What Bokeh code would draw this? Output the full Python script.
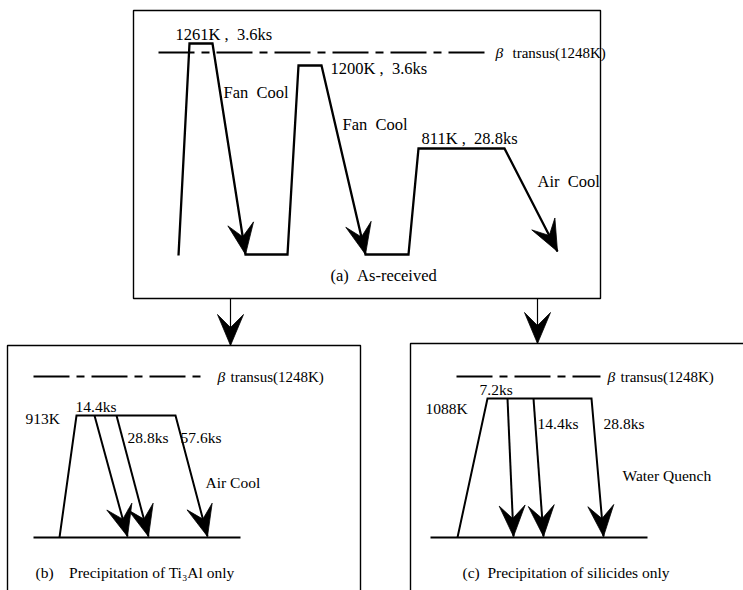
from bokeh.plotting import figure
from bokeh.models import Range1d
from bokeh.embed import file_html
from bokeh.resources import INLINE
from bokeh.core.properties import value
import numpy as np

# ---------------- schematic data (drawing units, y grows downward) ----------------
# (a) As-received: solution 1261K/3.6ks -> fan cool -> 1200K/3.6ks -> fan cool -> 811K/28.8ks -> air cool
a_path_x = [178, 189, 212, 245, 287, 298, 321, 365, 408, 418, 504, 557]
a_path_y = [255, 43, 43, 254, 254, 65, 65, 254, 254, 148, 148, 251]
a_arrow_at = [3, 7, 11]          # path vertices that end in a cooling arrow

# (b) 913K ageing, held 14.4 / 28.8 / 57.6 ks, air cooled
b_ramp_x = [59, 76, 175, 207]
b_ramp_y = [537, 415, 415, 536]
b_cool_x0 = [94, 116]
b_cool_x1 = [127, 148]
b_cool_y0 = [415, 415]
b_cool_y1 = [536, 536]
b_base_x = [33, 240]

# (c) 1088K ageing, held 7.2 / 14.4 / 28.8 ks, water quenched
c_ramp_x = [457, 487, 591, 603]
c_ramp_y = [537, 398, 398, 536]
c_cool_x0 = [507, 533]
c_cool_x1 = [513, 543]
c_cool_y0 = [398, 398]
c_cool_y1 = [536, 536]
c_base_x = [430, 647]
base_y = 537

# beta transus reference lines
transus_x0 = [158, 33, 456]
transus_x1 = [485, 203, 600]
transus_y = [52, 376, 376]

# frames and connectors
box_left = [133, 7, 410]
box_right = [600, 360, 760]
box_top = [10, 345, 343]
box_bottom = [298, 620, 620]
link_x = [230, 537]
link_y0 = [298, 298]
link_y1 = [345, 343]

SP = "\u00a0"   # non-collapsing space for the wide word gaps

# labels
labels_a = ["1261K" + SP + "," + SP * 2 + "3.6ks", "Fan" + SP * 2 + "Cool",
            "1200K" + SP + "," + SP * 2 + "3.6ks", "Fan" + SP * 2 + "Cool",
            "811K" + SP + "," + SP * 2 + "28.8ks", "Air" + SP * 2 + "Cool",
            "(a)" + SP * 2 + "As-received"]
labels_a_x = [175, 223, 330, 342, 421, 537, 330]
labels_a_y = [34, 92, 68, 124, 138, 181, 275]

labels_b = ["913K", "14.4ks", "28.8ks", "57.6ks", "Air Cool",
            "(b)" + SP * 4 + "Precipitation of Ti\u2083Al only"]
labels_b_x = [25, 75, 127, 180, 205, 35]
labels_b_y = [418, 406, 437, 437, 482, 572]

labels_c = ["7.2ks", "1088K", "14.4ks", "28.8ks", "Water Quench",
            "(c)" + SP * 2 + "Precipitation of silicides only"]
labels_c_x = [479, 425, 537, 603, 622, 462]
labels_c_y = [389, 408, 423, 423, 475, 572]

beta_x = [495, 217, 607]
transus_text_x = [512, 230, 620]
transus_label = "transus(1248K)"

FONT = value("Liberation Serif")
INK = "black"


def arrow_head(tip, tail, length=31.0, half_w=13.0, notch=18.0):
    tip = np.asarray(tip, float)
    tail = np.asarray(tail, float)
    d = tip - tail
    d /= np.hypot(*d)
    n = np.array([-d[1], d[0]])
    pts = [tip, tip - length * d + half_w * n, tip - notch * d, tip - length * d - half_w * n]
    return [p[0] for p in pts], [p[1] for p in pts]


p = figure(width=743, height=590, x_range=Range1d(0, 743), y_range=Range1d(590, 0),
           output_backend="svg", toolbar_location=None, min_border=0,
           x_axis_location=None, y_axis_location=None)
p.grid.visible = False
p.outline_line_color = None
p.background_fill_color = "white"
p.border_fill_color = "white"

# frames
p.quad(left=box_left, right=box_right, top=box_top, bottom=box_bottom,
       fill_color=None, line_color=INK, line_width=1.4)

# connectors between panels
heads_x, heads_y = [], []
p.segment(x0=link_x, y0=link_y0, x1=link_x, y1=link_y1, line_color=INK, line_width=1.2)
for x, y0, y1 in zip(link_x, link_y0, link_y1):
    hx, hy = arrow_head((x, y1), (x, y0))
    heads_x.append(hx)
    heads_y.append(hy)

# beta transus dash-dot lines
p.segment(x0=transus_x0, y0=transus_y, x1=transus_x1, y1=transus_y,
          line_color=INK, line_width=2.0, line_dash="36 7 8 7")

# (a) thermal path
p.line(a_path_x, a_path_y, line_color=INK, line_width=2.3, line_join="miter")
for i in a_arrow_at:
    hx, hy = arrow_head((a_path_x[i], a_path_y[i]), (a_path_x[i - 1], a_path_y[i - 1]))
    heads_x.append(hx)
    heads_y.append(hy)

# (b) and (c) ageing paths
for rx, ry, cx0, cx1, cy0, cy1, bx in [
        (b_ramp_x, b_ramp_y, b_cool_x0, b_cool_x1, b_cool_y0, b_cool_y1, b_base_x),
        (c_ramp_x, c_ramp_y, c_cool_x0, c_cool_x1, c_cool_y0, c_cool_y1, c_base_x)]:
    p.line(bx, [base_y, base_y], line_color=INK, line_width=2.0)
    p.line(rx, ry, line_color=INK, line_width=2.0, line_join="miter")
    p.segment(x0=cx0, y0=cy0, x1=cx1, y1=cy1, line_color=INK, line_width=2.0)
    hx, hy = arrow_head((rx[-1], ry[-1]), (rx[-2], ry[-2]))
    heads_x.append(hx)
    heads_y.append(hy)
    for a0, b0, a1, b1 in zip(cx0, cy0, cx1, cy1):
        hx, hy = arrow_head((a1, b1), (a0, b0))
        heads_x.append(hx)
        heads_y.append(hy)

p.patches(xs=heads_x, ys=heads_y, fill_color=INK, line_color=INK, line_width=0.8)

# texts
for tx, ty, tt, fs in [(labels_a_x, labels_a_y, labels_a, "16.5px"),
                       (labels_b_x, labels_b_y, labels_b, "15.5px"),
                       (labels_c_x, labels_c_y, labels_c, "15.5px")]:
    p.text(x=tx, y=ty, text=tt, text_font=FONT, text_font_size=fs,
           text_baseline="middle", text_align="left", text_color=INK)

p.text(x=beta_x, y=transus_y, text=["\u03b2"] * 3, text_font=FONT,
       text_font_size="15.5px", text_font_style="italic",
       text_baseline="middle", text_align="left", text_color=INK)
p.text(x=transus_text_x, y=transus_y, text=[transus_label] * 3, text_font=FONT,
       text_font_size="15px", text_baseline="middle", text_align="left", text_color=INK)

open("out.html", "w").write(file_html(p, INLINE))
